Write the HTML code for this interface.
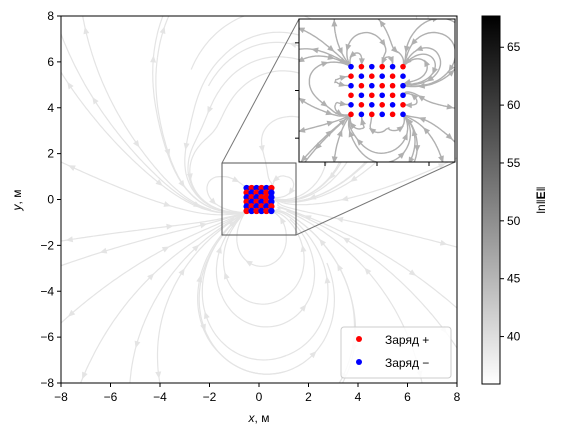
<!DOCTYPE html>
<html><head><meta charset="utf-8"><style>
body{margin:0;background:#fff;}
svg text{font-family:"Liberation Sans","DejaVu Sans",sans-serif;}
</style></head><body>
<svg id="s" width="561" height="438" xmlns="http://www.w3.org/2000/svg">
<defs>
<linearGradient id="cg" x1="0" y1="1" x2="0" y2="0"><stop offset="0" stop-color="#fff"/><stop offset="1" stop-color="#000"/></linearGradient>
<clipPath id="mainclip"><rect x="61" y="16" width="396" height="367"/></clipPath>
<clipPath id="insclip"><rect x="299" y="19" width="156" height="143"/></clipPath>
</defs>
<g id="mainStreams" clip-path="url(#mainclip)"></g>
<g id="mainDots"></g>
<rect x="61" y="16" width="396" height="367" fill="none" stroke="#000" stroke-width="1"/>
<g id="ticks"></g>
<text x="259" y="422" font-size="12" text-anchor="middle"><tspan font-style="italic">x</tspan>, м</text>
<text transform="translate(21,200) rotate(-90)" font-size="12" text-anchor="middle"><tspan font-style="italic">y</tspan>, м</text>
<rect x="222" y="163" width="74" height="72" fill="none" stroke="#555" stroke-width="1"/>
<line x1="222" y1="163" x2="299" y2="19" stroke="#777" stroke-width="1"/>
<line x1="296" y1="235" x2="455" y2="162" stroke="#777" stroke-width="1"/>
<rect x="299" y="19" width="156" height="143" fill="#fff"/>
<g id="insStreams" clip-path="url(#insclip)"></g>
<g id="insDots"></g>
<rect x="299" y="19" width="156" height="143" fill="none" stroke="#000" stroke-width="1"/>
<g id="insTicks"></g>
<g>
<rect x="341" y="327" width="110" height="51" rx="3" fill="#fff" fill-opacity="0.85" stroke="#ccc"/>
<circle cx="359" cy="339" r="3" fill="red"/>
<text x="385" y="344" font-size="12">Заряд +</text>
<circle cx="359" cy="362" r="3" fill="blue"/>
<text x="385" y="367" font-size="12">Заряд −</text>
</g>
<rect x="482" y="16" width="18" height="368" fill="url(#cg)" stroke="#000" stroke-width="1"/>
<g id="cbTicks"></g>
<text transform="translate(545,200) rotate(-90)" font-size="12" text-anchor="middle">ln‖<tspan font-weight="bold">E</tspan>‖</text>
</svg>
<script>
const chargeX=[-0.5,-0.3,-0.1,0.1,0.3,0.5];
const chargeY=[0.5,0.3,0.1,-0.1,-0.3,-0.5];
const chargeSign=[
 [-1,1,-1,1,-1,1],
 [1,-1,1,-1,1,-1],
 [-1,1,-1,1,1,-1],
 [1,-1,1,-1,1,-1],
 [-1,1,-1,1,-1,1],
 [1,-1,1,-1,1,-1]];
const xTicks=[-8,-6,-4,-2,0,2,4,6,8];
const yTicks=[-8,-6,-4,-2,0,2,4,6,8];
const cbTicks=[40,45,50,55,60,65];
const cbRange=[35.9,67.7];

const NS="http://www.w3.org/2000/svg";
const mx=v=>61+(v+8)*396/16, my=v=>383-(v+8)*367/16;
const ix=v=>299+(v+1.5)*156/3, iy=v=>162-(v+1.5)*143/3;
function mk(t,a,p){const e=document.createElementNS(NS,t);for(const k in a)e.setAttribute(k,a[k]);p.appendChild(e);return e;}
const charges=[];
chargeY.forEach((y,r)=>chargeX.forEach((x,c)=>charges.push([x,y,chargeSign[r][c]])));
function E(x,y){let ex=0,ey=0;for(const q of charges){const dx=x-q[0],dy=y-q[1],r2=dx*dx+dy*dy+1e-4,r3=r2*Math.sqrt(r2);ex+=q[2]*dx/r3;ey+=q[2]*dy/r3;}return [ex,ey];}
function trace(x0,y0,step,n,lim,dir){const pts=[[x0,y0]];let x=x0,y=y0;for(let i=0;i<n;i++){const [ex,ey]=E(x,y);const m=Math.hypot(ex,ey);if(!m)break;x+=dir*step*ex/m;y+=dir*step*ey/m;if(Math.abs(x)>lim||Math.abs(y)>lim)break;let near=false;for(const q of charges){if(Math.hypot(x-q[0],y-q[1])<step*0.8){near=true;break;}}pts.push([x,y]);if(near)break;}return pts;}
function drawStreams(g,fx,fy,lim,seeds,step,n,col,w){
 seeds.forEach(s=>{[1,-1].forEach(d=>{const p=trace(s[0],s[1],step,n,lim,d);if(p.length<2)return;
  const path=mk('path',{d:'M'+p.map(q=>fx(q[0]).toFixed(1)+','+fy(q[1]).toFixed(1)).join('L'),fill:'none',stroke:col,'stroke-width':w},g);
  
  
  const k=Math.floor(p.length/2);if(k>0){const a=p[k],b=p[k-1];const ang=Math.atan2(fy(a[1])-fy(b[1]),fx(a[0])-fx(b[0]))*180/Math.PI;
   const ar=mk('path',{d:'M4,0L-3,3L-3,-3Z',fill:col,transform:`translate(${fx(a[0]).toFixed(1)},${fy(a[1]).toFixed(1)}) rotate(${ang.toFixed(0)})`},g);
   
   }
 });});}
const mseeds=[];for(let a=-7;a<=7;a+=2.6)for(let b=-7;b<=7;b+=2.6)mseeds.push([a+0.3,b+0.2]);
drawStreams(document.getElementById('mainStreams'),mx,my,8.5,mseeds,0.12,70,'#e4e4e4',1.2);
const iseeds=[];for(let a=-1.3;a<=1.3;a+=0.5)for(let b=-1.3;b<=1.3;b+=0.5)if(Math.abs(a)>0.6||Math.abs(b)>0.6)iseeds.push([a,b]);
drawStreams(document.getElementById('insStreams'),ix,iy,1.6,iseeds,0.03,60,'#b0b0b0',1.4);
function dots(g,fx,fy,r){charges.forEach(q=>{const c=mk('circle',{cx:fx(q[0]),cy:fy(q[1]),r:r,fill:q[2]>0?'red':'blue'},g);
 
 });}
dots(document.getElementById('mainDots'),mx,my,3.2);
dots(document.getElementById('insDots'),ix,iy,2.8);
const T=document.getElementById('ticks');
xTicks.forEach(v=>{mk('line',{x1:mx(v),x2:mx(v),y1:383,y2:387,stroke:'#000'},T);const t=mk('text',{x:mx(v),y:401,'font-size':12,'text-anchor':'middle'},T);t.textContent=v<0?'−'+(-v):v;
 
 });
yTicks.forEach(v=>{mk('line',{x1:57,x2:61,y1:my(v),y2:my(v),stroke:'#000'},T);const t=mk('text',{x:54,y:my(v)+4,'font-size':12,'text-anchor':'end'},T);t.textContent=v<0?'−'+(-v):v;
 
 });
const IT=document.getElementById('insTicks');
[-1,0,1].forEach(v=>{mk('line',{x1:ix(v),x2:ix(v),y1:162,y2:166,stroke:'#000'},IT);mk('line',{x1:295,x2:299,y1:iy(v),y2:iy(v),stroke:'#000'},IT);});
const C=document.getElementById('cbTicks');
const cy=v=>384-(v-cbRange[0])/(cbRange[1]-cbRange[0])*368;
cbTicks.forEach(v=>{mk('line',{x1:500,x2:504,y1:cy(v),y2:cy(v),stroke:'#000'},C);const t=mk('text',{x:507,y:cy(v)+4,'font-size':12},C);t.textContent=v;
 
 });
</script>
</body></html>
